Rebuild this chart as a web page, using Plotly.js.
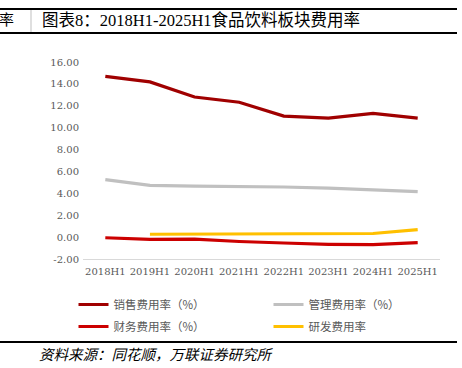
<!DOCTYPE html>
<html>
<head>
<meta charset="utf-8">
<script src="https://cdn.plot.ly/plotly-3.0.1.min.js"></script>
<style>html,body{margin:0;padding:0;background:#fff;}#chart{width:462px;height:368px;}</style>
</head>
<body>
<div id="chart"></div>
<script>
var categories = ['2018H1','2019H1','2020H1','2021H1','2022H1','2023H1','2024H1','2025H1'];
var seriesNames = ['销售费用率（%）','管理费用率（%）','财务费用率（%）','研发费用率'];
var salesRate = [14.68, 14.18, 12.80, 12.32, 11.06, 10.88, 11.30, 10.88];
var adminRate = [5.25, 4.72, 4.66, 4.64, 4.58, 4.48, 4.33, 4.15];
var financeRate = [-0.06, -0.20, -0.18, -0.40, -0.54, -0.66, -0.69, -0.51];
var rdRate = [null, 0.26, 0.28, 0.32, 0.33, 0.33, 0.33, 0.69];
var yTickVals = [-2, 0, 2, 4, 6, 8, 10, 12, 14, 16];
var yTickText = ['-2.00','0.00','2.00','4.00','6.00','8.00','10.00','12.00','14.00','16.00'];
var colors = ['#A00000', '#C0C0C0', '#CC0000', '#FFC000'];
var seriesData = [salesRate, adminRate, financeRate, rdRate];
var legendOf = ['legend', 'legend2', 'legend', 'legend2'];

var traces = seriesData.map(function (d, i) {
  return {
    x: categories, y: d, name: seriesNames[i], type: 'scatter', mode: 'lines',
    line: {color: colors[i], width: 3.2}, connectgaps: false, hoverinfo: 'skip',
    legend: legendOf[i], legendgroup: 'g' + i
  };
});

var cjk = '"Liberation Serif", "Noto Sans CJK SC", serif';
var legendFont = {family: '"Noto Sans CJK SC", sans-serif', size: 11.5, color: '#595959'};
var tickFont = {family: '"DejaVu Serif", serif', size: 10, color: '#595959'};
var PW = 357, PH = 197, PL = 83, PT = 62;
function px(x) { return (x - PL) / PW; }
function py(y) { return 1 - (y - PT) / PH; }

var layout = {
  width: 462, height: 368,
  margin: {l: 83, r: 22, t: 62, b: 109},
  paper_bgcolor: '#fff', plot_bgcolor: '#fff',
  showlegend: true,
  legend: {
    orientation: 'v', x: px(73.5), xanchor: 'left', y: py(290), yanchor: 'top',
    font: legendFont, tracegroupgap: 3, bgcolor: 'rgba(0,0,0,0)', itemwidth: 30
  },
  legend2: {
    orientation: 'v', x: px(268.5), xanchor: 'left', y: py(290), yanchor: 'top',
    font: legendFont, tracegroupgap: 3, bgcolor: 'rgba(0,0,0,0)', itemwidth: 30
  },
  xaxis: {
    type: 'category', range: [-0.5, 7.5], showgrid: false, zeroline: false,
    showline: true, linecolor: '#d9d9d9', linewidth: 1, ticks: '',
    tickfont: tickFont, ticklabelstandoff: 3, fixedrange: true
  },
  yaxis: {
    range: [-2, 16], showgrid: false, zeroline: false, showline: false,
    tickvals: yTickVals, ticktext: yTickText, ticks: '',
    tickfont: tickFont, ticklabelstandoff: 3, fixedrange: true
  },
  shapes: [
    {type: 'line', xref: 'paper', yref: 'paper', x0: px(0), x1: px(457), y0: py(9), y1: py(9), line: {color: '#000', width: 2}},
    {type: 'line', xref: 'paper', yref: 'paper', x0: px(0), x1: px(457), y0: py(33), y1: py(33), line: {color: '#000', width: 2}},
    {type: 'line', xref: 'paper', yref: 'paper', x0: px(31), x1: px(31), y0: py(10), y1: py(32), line: {color: '#bfbfbf', width: 1}},
    {type: 'line', xref: 'paper', yref: 'paper', x0: px(0), x1: px(457), y0: py(342), y1: py(342), line: {color: '#000', width: 2}}
  ],
  annotations: [
    {xref: 'paper', yref: 'paper', x: px(40), y: py(20), xanchor: 'left', yanchor: 'middle',
     text: '图表8：2018H1-2025H1食品饮料板块费用率', showarrow: false,
     font: {family: cjk, size: 16.5, color: '#000'}},
    {xref: 'paper', yref: 'paper', x: px(-3), y: py(20), xanchor: 'left', yanchor: 'middle',
     text: '率', showarrow: false, font: {family: cjk, size: 15, color: '#000'}},
    {xref: 'paper', yref: 'paper', x: px(37), y: py(355), xanchor: 'left', yanchor: 'middle',
     text: '<i>资料来源：同花顺，万联证券研究所</i>', showarrow: false,
     font: {family: cjk, size: 14.5, color: '#000'}}
  ]
};

Plotly.newPlot('chart', traces, layout, {staticPlot: true, displayModeBar: false});
</script>
</body>
</html>
